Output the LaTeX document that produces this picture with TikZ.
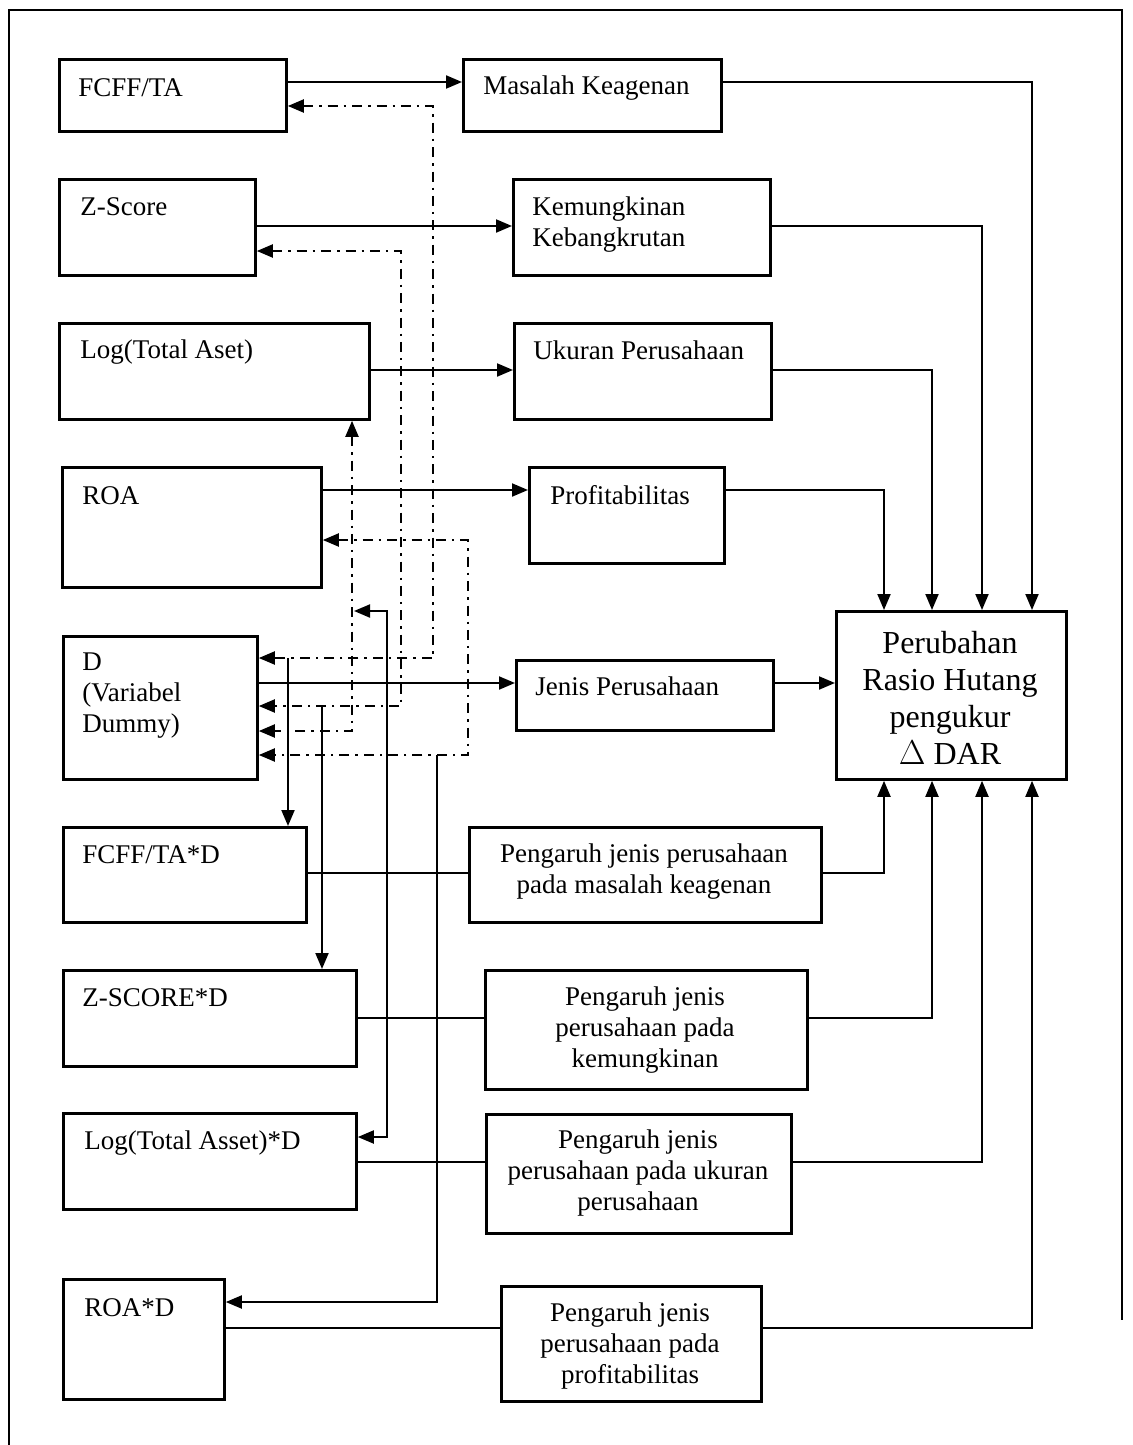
\documentclass[tikz,border=0pt]{standalone}
\usepackage{fontspec}
\setmainfont{Liberation Serif}
\usetikzlibrary{arrows.meta, positioning, calc}

\begin{document}
\begin{tikzpicture}[
    x=0.5pt, y=-0.5pt,
    box/.style 2 args={
        rectangle, draw=black, line width=1.4pt, anchor=north west,
        minimum width=#1*0.5pt, minimum height=#2*0.5pt, inner sep=0pt
    },
    txt/.style={font=\fontsize{13.5}{15.5}\selectfont, inner sep=0pt, anchor=north west, align=left},
    ctxt/.style={font=\fontsize{13.5}{15.5}\selectfont, inner sep=0pt, anchor=north, align=center},
    bigtxt/.style={font=\fontsize{16}{18.5}\selectfont, inner sep=0pt, anchor=north, align=center},
    arrow/.style={-{Triangle[length=8pt, width=6.5pt]}, line width=1pt},
    link/.style={line width=1pt},
    dasharrow/.style={{Triangle[length=8pt, width=6.5pt]}-{Triangle[length=8pt, width=6.5pt]},
        line width=1pt, dash pattern=on 5pt off 3pt on 1.2pt off 3pt},
    frame/.style={line width=1.3pt}
]
\useasboundingbox (0,0) rectangle (1132,1445);

% Outer frame
\draw[frame] (9,1445) -- (9,10) -- (1122,10) -- (1122,1320);

% Left column: variables
\node[box={227}{72}] (fcff) at (58,58) {};
\node[box={196}{96}] (zscore) at (58,178) {};
\node[box={310}{96}] (logta) at (58,322) {};
\node[box={259}{120}] (roa) at (61,466) {};
\node[box={194}{143}] (dummy) at (62,635) {};
\node[box={243}{95}] (fcffd) at (62,826) {};
\node[box={293}{96}] (zscored) at (62,969) {};
\node[box={293}{96}] (logtad) at (62,1112) {};
\node[box={161}{120}] (road) at (62,1278) {};

\node[txt] (fcff-t) at (78,78) {FCFF/TA};
\node[txt] (zscore-t) at (80,197) {Z-Score};
\node[txt] (logta-t) at (80,339) {Log(Total Aset)};
\node[txt] (roa-t) at (82,486) {ROA};
\node[txt] (dummy-t) at (82,652) {D\\(Variabel\\Dummy)};
\node[txt] (fcffd-t) at (82,845) {FCFF/TA*D};
\node[txt] (zscored-t) at (82,988) {Z-SCORE*D};
\node[txt] (logtad-t) at (84,1130) {Log(Total Asset)*D};
\node[txt] (road-t) at (84,1298) {ROA*D};

% Middle column: proxies
\node[box={258}{72}] (agency) at (462,58) {};
\node[box={257}{96}] (bankrupt) at (512,178) {};
\node[box={257}{96}] (size) at (513,322) {};
\node[box={195}{96}] (profit) at (528,466) {};
\node[box={257}{70}] (jenis) at (515,659) {};
\node[box={352}{95}] (pagency) at (468,826) {};
\node[box={322}{119}] (pbankrupt) at (484,969) {};
\node[box={305}{119}] (psize) at (485,1113) {};
\node[box={260}{115}] (pprofit) at (500,1285) {};

\node[txt] (agency-t) at (483,75) {Masalah Keagenan};
\node[txt] (bankrupt-t) at (532,196) {Kemungkinan\\Kebangkrutan};
\node[txt] (size-t) at (533,340) {Ukuran Perusahaan};
\node[txt] (profit-t) at (550,485) {Profitabilitas};
\node[txt] (jenis-t) at (535,676) {Jenis Perusahaan};
\node[ctxt] (pagency-t) at (644,843) {Pengaruh jenis perusahaan\\pada masalah keagenan};
\node[ctxt] (pbankrupt-t) at (645,986) {Pengaruh jenis\\perusahaan pada\\kemungkinan};
\node[ctxt] (psize-t) at (638,1129) {Pengaruh jenis\\perusahaan pada ukuran\\perusahaan};
\node[ctxt] (pprofit-t) at (630,1302) {Pengaruh jenis\\perusahaan pada\\profitabilitas};

% Dependent variable
\node[box={230}{168}] (dar) at (835,610) {};
\node[bigtxt] (dar-t) at (950,631) {Perubahan\\Rasio Hutang\\pengukur\\$\Delta$ DAR};

% Variables -> proxies
\draw[arrow] (fcff.east |- 0,82) -- (agency.west |- 0,82);
\draw[arrow] (zscore.east |- 0,226) -- (bankrupt.west |- 0,226);
\draw[arrow] (logta.east |- 0,370) -- (size.west |- 0,370);
\draw[arrow] (roa.east |- 0,490) -- (profit.west |- 0,490);
\draw[arrow] (dummy.east |- 0,683) -- (jenis.west |- 0,683);
\draw[arrow] (jenis.east |- 0,683) -- (dar.west |- 0,683);

% Proxies -> dependent variable (top)
\draw[arrow] (agency.east |- 0,82) -| (1032,0 |- dar.north);
\draw[arrow] (bankrupt.east |- 0,226) -| (982,0 |- dar.north);
\draw[arrow] (size.east |- 0,370) -| (932,0 |- dar.north);
\draw[arrow] (profit.east |- 0,490) -| (884,0 |- dar.north);

% Interactions -> dependent variable (bottom)
\draw[arrow] (pagency.east |- 0,873) -| (884,0 |- dar.south);
\draw[arrow] (pbankrupt.east |- 0,1018) -| (932,0 |- dar.south);
\draw[arrow] (psize.east |- 0,1162) -| (982,0 |- dar.south);
\draw[arrow] (pprofit.east |- 0,1328) -| (1032,0 |- dar.south);

% Interaction variables -> interaction effects
\draw[link] (fcffd.east |- 0,873) -- (pagency.west |- 0,873);
\draw[link] (zscored.east |- 0,1018) -- (pbankrupt.west |- 0,1018);
\draw[link] (logtad.east |- 0,1162) -- (psize.west |- 0,1162);
\draw[link] (road.east |- 0,1328) -- (pprofit.west |- 0,1328);

% Dash-dot links to the dummy
\draw[dasharrow] (fcff.east |- 0,106) -| (433,658) -- (dummy.east |- 0,658);
\draw[dasharrow] (zscore.east |- 0,251) -| (401,706) -- (dummy.east |- 0,706);
\draw[dasharrow] (352,0 |- logta.south) -- (352,731) -- (dummy.east |- 0,731);
\draw[dasharrow] (roa.east |- 0,540) -| (468,755) -- (dummy.east |- 0,755);

% Junctions
\coordinate (jfcff) at (288,658);
\coordinate (jzscore) at (322,706);
\coordinate (jlog) at (354,611);
\coordinate (jroa) at (437,755);

\draw[arrow] (jfcff) -- (jfcff |- fcffd.north);
\draw[arrow] (jzscore) -- (jzscore |- zscored.north);
\draw[link, {Triangle[length=8pt, width=6.5pt]}-{Triangle[length=8pt, width=6.5pt]}]
    (jlog) -- (387,611) -- (387,1137) -- (logtad.east |- 0,1137);
\draw[arrow] (jroa) -- (437,1302) -- (road.east |- 0,1302);

\end{tikzpicture}
\end{document}
